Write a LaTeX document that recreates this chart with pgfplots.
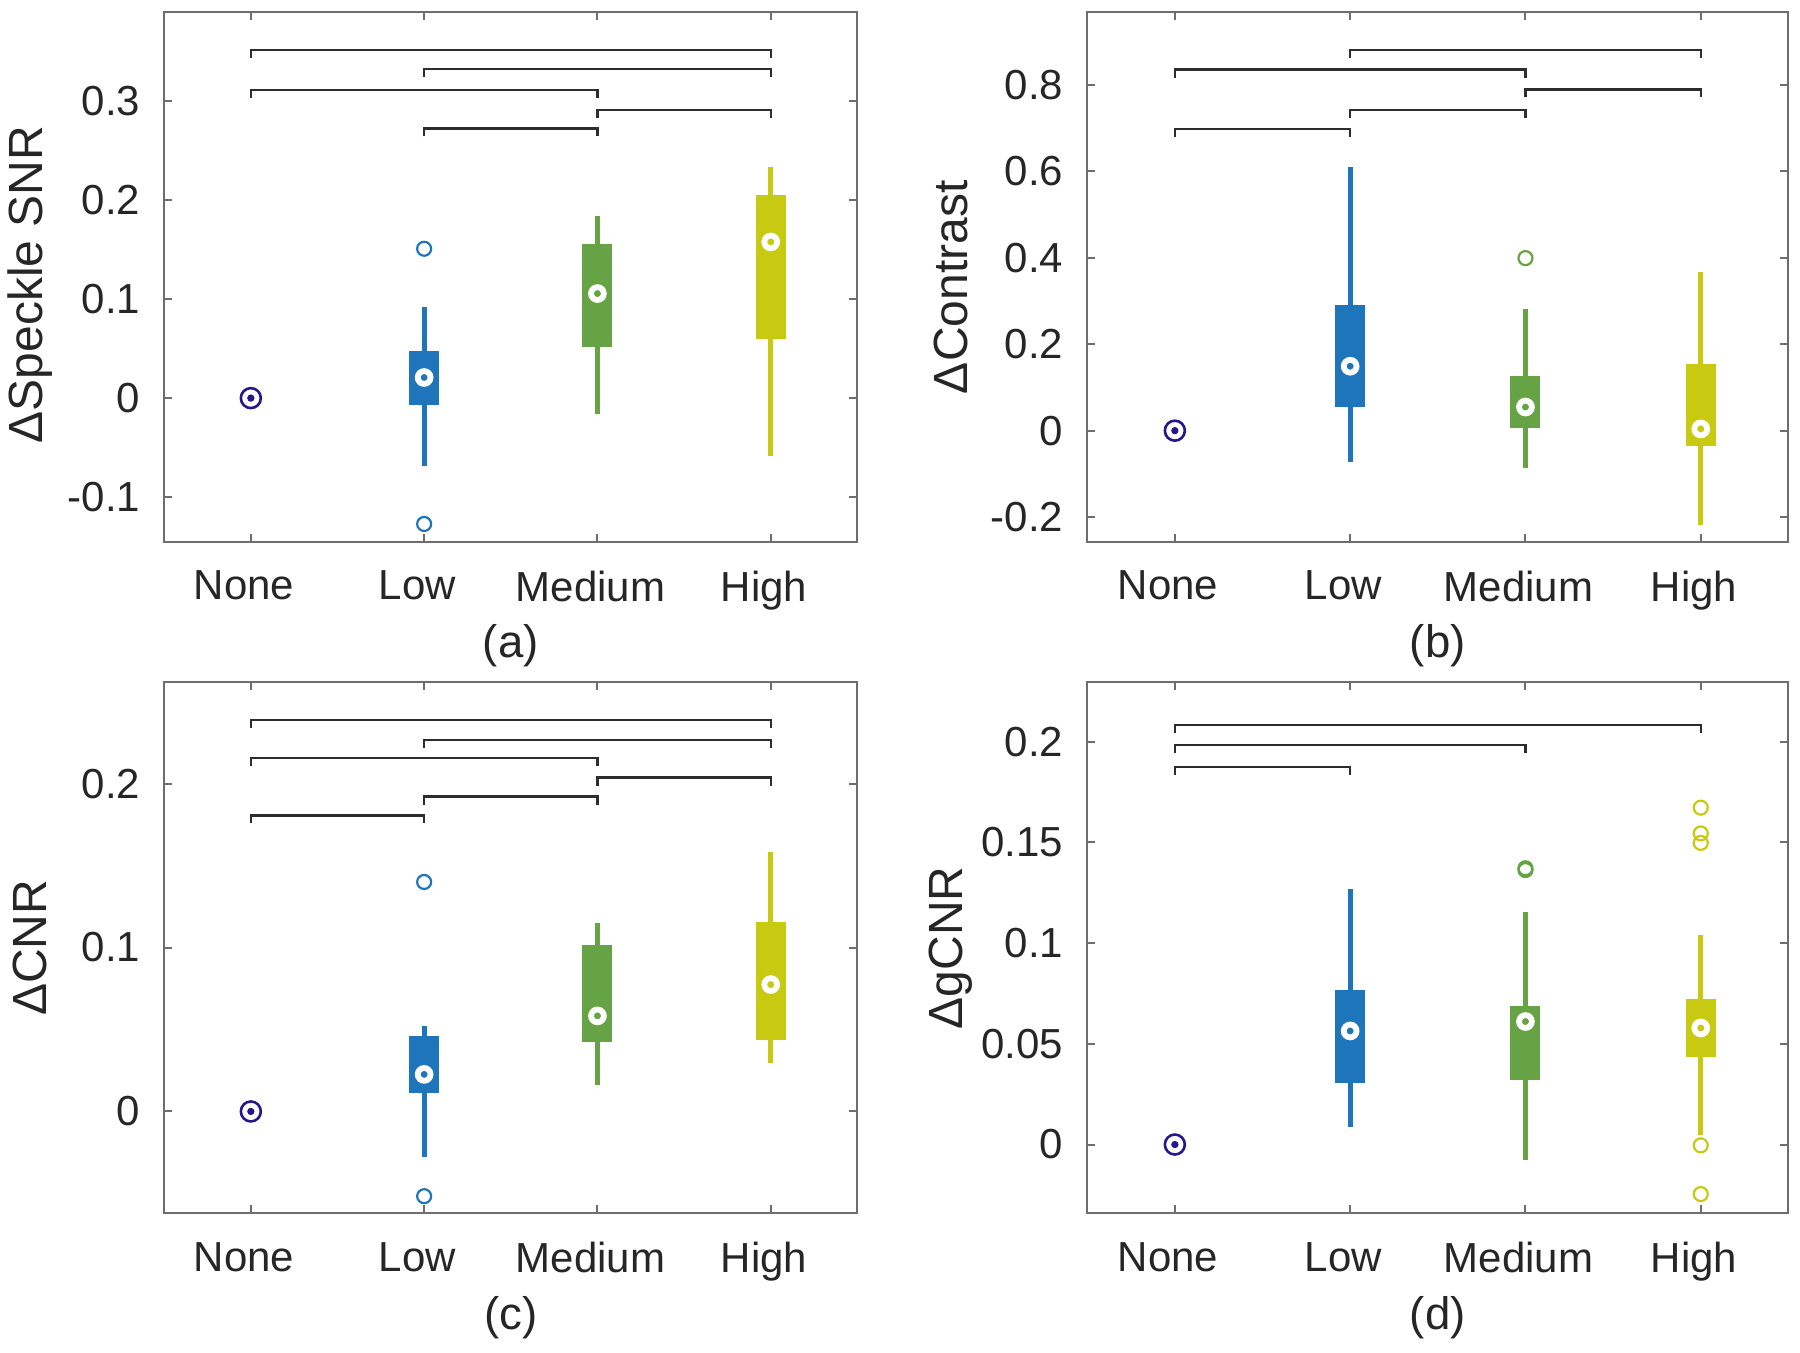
\documentclass[border=0pt]{standalone}
\usepackage{pgfplots}
\pgfplotsset{compat=1.18}
\usepackage{fontspec}
\setmainfont{Liberation Sans}
\definecolor{cnone}{RGB}{40,22,140}
\definecolor{clow}{RGB}{30,117,188}
\definecolor{cmed}{RGB}{102,163,68}
\definecolor{chigh}{RGB}{200,202,18}
\definecolor{ctxt}{RGB}{38,38,38}
\definecolor{caxis}{RGB}{110,110,110}
\definecolor{cbrk}{RGB}{45,45,45}
\newcommand{\bx}[7]{%
 \addplot[#1, line width=1.3pt, forget plot] coordinates {(#2,#3) (#2,#7)};
 \addplot[#1, line width=7.5pt, forget plot] coordinates {(#2,#4) (#2,#6)};
 \addplot[only marks, mark=*, mark size=1.6pt, mark options={draw=white, fill=#1, line width=1.45pt}, forget plot] coordinates {(#2,#5)};
}
\newcommand{\nonept}{%
 \addplot[only marks, mark=o, mark size=2.5pt, mark options={draw=cnone, line width=0.65pt}, forget plot] coordinates {(1,0)};
 \addplot[only marks, mark=*, mark size=0.7pt, mark options={draw=cnone, fill=cnone}, forget plot] coordinates {(1,0)};
}
\pgfplotsset{
 panel/.style={
  scale only axis, anchor=south west,
  xmin=0.5, xmax=4.5, xtick={1,2,3,4},
  xticklabels={None,Low,Medium,High},
  tick pos=both, tick align=inside, major tick length=2pt,
  axis line style={caxis, line width=0.5pt},
  every tick/.style={caxis, line width=0.5pt},
  /pgf/number format/assume math mode=true,
  tick label style={font=\fontsize{10.5}{12}\selectfont, text=ctxt},
  xticklabel style={yshift=-3.7pt, xshift=-1.7pt},
  yticklabel style={xshift=-2.5pt},
  ylabel style={font=\fontsize{12}{14}\selectfont, text=ctxt, at={(axis description cs:-0.194,0.5)}, anchor=center},
  xlabel style={font=\fontsize{11.4}{13}\selectfont, text=ctxt, at={(axis description cs:0.5,-0.196)}, anchor=center},
 },
 brk/.style={cbrk, line width=0.55pt, forget plot},
 outl/.style={only marks, mark=o, mark size=1.75pt, mark options={line width=0.55pt}, forget plot},
}
\begin{document}
\begin{tikzpicture}
\useasboundingbox (0,0) rectangle (450pt,338pt);
% (a)
\begin{axis}[panel, at={(41.05pt,202.55pt)}, width=173.3pt, height=132.55pt,
 ymin=-0.145, ymax=0.39, ytick={-0.1,0,0.1,0.2,0.3}, yticklabels={-0.1,0,0.1,0.2,0.3},
 ylabel={ΔSpeckle SNR}, xlabel={(a)}, ylabel style={at={(axis description cs:-0.194,0.485)}}]
\addplot[brk] coordinates {(1,0.343) (1,0.351) (4,0.351) (4,0.343)};
\addplot[brk] coordinates {(2,0.324) (2,0.332) (4,0.332) (4,0.324)};
\addplot[brk] coordinates {(1,0.303) (1,0.311) (3,0.311) (3,0.303)};
\addplot[brk] coordinates {(3,0.283) (3,0.291) (4,0.291) (4,0.283)};
\addplot[brk] coordinates {(2,0.264) (2,0.272) (3,0.272) (3,0.264)};
\nonept
\bx{clow}{2}{-0.069}{-0.0069}{0.0208}{0.0478}{0.0916}
\addplot[outl, clow] coordinates {(2,0.1507) (2,-0.127)};
\bx{cmed}{3}{-0.016}{0.0512}{0.1055}{0.1555}{0.1837}
\bx{chigh}{4}{-0.058}{0.060}{0.1576}{0.205}{0.2336}
\end{axis}
% (b)
\begin{axis}[panel, at={(271.8pt,202.55pt)}, width=175.3pt, height=132.55pt,
 ymin=-0.257, ymax=0.969, ytick={-0.2,0,0.2,0.4,0.6,0.8}, yticklabels={-0.2,0,0.2,0.4,0.6,0.8},
 ylabel={ΔContrast}, xlabel={(b)}, ylabel style={at={(axis description cs:-0.194,0.48)}}]
\addplot[brk] coordinates {(2,0.8615) (2,0.880) (4,0.880) (4,0.8615)};
\addplot[brk] coordinates {(1,0.8165) (1,0.835) (3,0.835) (3,0.8165)};
\addplot[brk] coordinates {(3,0.7705) (3,0.789) (4,0.789) (4,0.7705)};
\addplot[brk] coordinates {(2,0.7235) (2,0.742) (3,0.742) (3,0.7235)};
\addplot[brk] coordinates {(1,0.679) (1,0.6975) (2,0.6975) (2,0.679)};
\nonept
\bx{clow}{2}{-0.0736}{0.0557}{0.149}{0.2915}{0.610}
\bx{cmed}{3}{-0.0856}{0.007}{0.0547}{0.127}{0.2816}
\addplot[outl, cmed] coordinates {(3,0.399)};
\bx{chigh}{4}{-0.218}{-0.036}{0.004}{0.155}{0.367}
\end{axis}
% (c)
\begin{axis}[panel, at={(41.05pt,34.65pt)}, width=173.3pt, height=132.85pt,
 ymin=-0.0622, ymax=0.262, ytick={0,0.1,0.2}, yticklabels={0,0.1,0.2},
 ylabel={ΔCNR}, xlabel={(c)}]
\addplot[brk] coordinates {(1,0.2337) (1,0.2386) (4,0.2386) (4,0.2337)};
\addplot[brk] coordinates {(2,0.2219) (2,0.2268) (4,0.2268) (4,0.2219)};
\addplot[brk] coordinates {(1,0.2106) (1,0.2155) (3,0.2155) (3,0.2106)};
\addplot[brk] coordinates {(3,0.1988) (3,0.2037) (4,0.2037) (4,0.1988)};
\addplot[brk] coordinates {(2,0.1872) (2,0.1921) (3,0.1921) (3,0.1872)};
\addplot[brk] coordinates {(1,0.1757) (1,0.1806) (2,0.1806) (2,0.1757)};
\nonept
\bx{clow}{2}{-0.028}{0.011}{0.0226}{0.0462}{0.0522}
\addplot[outl, clow] coordinates {(2,0.140) (2,-0.0517)};
\bx{cmed}{3}{0.016}{0.0425}{0.0583}{0.1016}{0.115}
\bx{chigh}{4}{0.0297}{0.0433}{0.0774}{0.1155}{0.158}
\end{axis}
% (d)
\begin{axis}[panel, at={(271.8pt,34.65pt)}, width=175.3pt, height=132.85pt,
 ymin=-0.0342, ymax=0.2297, ytick={0,0.05,0.1,0.15,0.2}, yticklabels={0,0.05,0.1,0.15,0.2},
 ylabel={ΔgCNR}, xlabel={(d)}]
\addplot[brk] coordinates {(1,0.2043) (1,0.2083) (4,0.2083) (4,0.2043)};
\addplot[brk] coordinates {(1,0.1943) (1,0.1983) (3,0.1983) (3,0.1943)};
\addplot[brk] coordinates {(1,0.1834) (1,0.1874) (2,0.1874) (2,0.1834)};
\nonept
\bx{clow}{2}{0.0088}{0.0306}{0.0564}{0.0769}{0.1267}
\bx{cmed}{3}{-0.0079}{0.032}{0.0611}{0.0686}{0.1156}
\addplot[outl, cmed] coordinates {(3,0.1372) (3,0.1363)};
\bx{chigh}{4}{0.0049}{0.0436}{0.0579}{0.0724}{0.1043}
\addplot[outl, chigh] coordinates {(4,0.1673) (4,0.1545) (4,0.1498) (4,-0.0004) (4,-0.0246)};
\end{axis}
\end{tikzpicture}
\end{document}
